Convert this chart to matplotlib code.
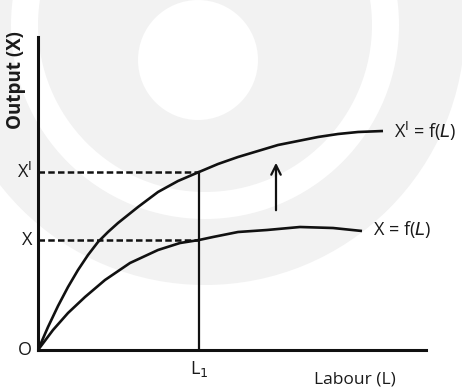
import numpy as np
import matplotlib.pyplot as plt
from matplotlib.patches import Circle, Wedge

# Production function after the upward shift: X' = f(L)
labour_new = [0, 1, 2, 3, 4, 5, 6, 7, 8, 9, 10, 12, 14, 16.1, 18, 20, 22, 24,
              26, 28, 30, 32, 34.5]
output_new = [0, 2.3, 4.4, 6.3, 8.0, 9.5, 10.8, 11.8, 12.7, 13.5, 14.3, 15.8,
              16.9, 17.8, 18.6, 19.3, 19.9, 20.5, 20.9, 21.3, 21.6, 21.8, 21.9]

# Original production function: X = f(L)
labour_old = [0, 1.5, 3.0, 4.7, 6.7, 9.2, 12.0, 14.2, 16.1, 17.5, 20.0, 22.9,
              26.2, 29.5, 32.4]
output_old = [0, 2.0, 3.7, 5.3, 7.0, 8.7, 10.0, 10.7, 11.0, 11.3, 11.8, 12.0,
              12.3, 12.2, 11.9]

L1 = 16.1
X_new = 17.8
X_old = 11.0

fig = plt.figure(figsize=(4.62, 3.90), dpi=100)

# faint round logo in the background (pixel coordinates)
bg = fig.add_axes([0, 0, 1, 1])
bg.set_xlim(0, 462)
bg.set_ylim(390, 0)
bg.axis('off')
grey = '#f2f2f2'
centre = (205, 25)
bg.add_patch(Circle(centre, 260, color=grey, lw=0))
bg.add_patch(Wedge(centre, 194, 0, 360, width=27, color='white', lw=0))
bg.add_patch(Circle((198, 60), 60, color='white', lw=0))

ax = fig.add_axes([38 / 462, 40 / 390, 388 / 462, 313 / 390])
ax.patch.set_alpha(0)
ax.set_xlim(0, 38.8)
ax.set_ylim(0, 31.3)
for s in ['top', 'right']:
    ax.spines[s].set_visible(False)
for s in ['left', 'bottom']:
    ax.spines[s].set_linewidth(2.2)
    ax.spines[s].set_color('#111111')
ax.set_xticks([])
ax.set_yticks([])

ink = '#111111'
ax.plot(labour_new, output_new, color=ink, lw=1.9, solid_capstyle='butt')
ax.plot(labour_old, output_old, color=ink, lw=1.9, solid_capstyle='butt')

# guide lines at L1
ax.plot([0, L1], [X_new, X_new], color=ink, lw=1.8, ls=(0, (2.6, 1.3)))
ax.plot([0, L1], [X_old, X_old], color=ink, lw=1.8, ls=(0, (2.6, 1.3)))
ax.plot([L1, L1], [0, X_new], color=ink, lw=1.6)

# shift arrow
ax.annotate('', xy=(23.8, 19.0), xytext=(23.8, 13.7),
            arrowprops=dict(arrowstyle='->', color=ink, lw=1.6,
                            mutation_scale=17))

font = 'Open Sans'
fs = 13
tc = '#1a1a1a'
ax.text(-0.6, X_new, 'X$^{\\mathsf{I}}$', ha='right', va='center', fontsize=fs,
        family=font, color=tc)
ax.text(-0.6, X_old, 'X', ha='right', va='center', fontsize=fs, family=font, color=tc)
ax.text(-0.6, 0, 'O', ha='right', va='center', fontsize=fs, family=font, color=tc)
ax.text(L1, -0.9, 'L$_\\mathsf{1}$', ha='center', va='top', fontsize=fs,
        family=font, color=tc)
ax.text(31.7, -2.1, 'Labour (L)', ha='center', va='top', fontsize=12.5,
        family=font, color=tc)
ax.text(-2.2, 27.0, 'Output (X)', ha='center', va='center', rotation=90,
        fontsize=13.5, family=font, weight='bold', color=tc)
ax.text(35.6, 21.9, 'X$^{\\mathsf{I}}$ = f($\\mathit{L}$)', ha='left', va='center',
        fontsize=fs, family=font, color=tc)
ax.text(33.5, 12.0, 'X = f($\\mathit{L}$)', ha='left', va='center',
        fontsize=fs, family=font, color=tc)

fig.savefig('out.png', dpi=100)
